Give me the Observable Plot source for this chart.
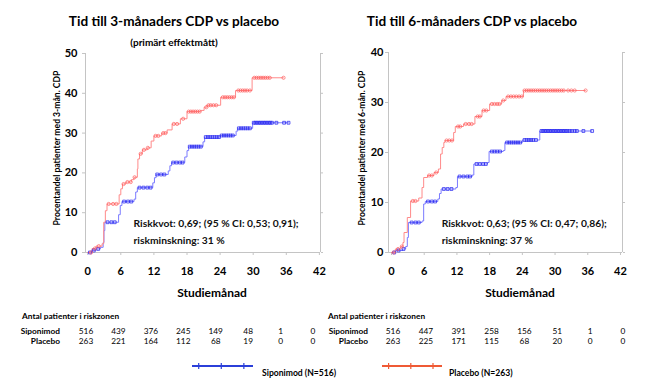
<!DOCTYPE html>
<html><head><meta charset="utf-8">
<script src="https://cdn.jsdelivr.net/npm/d3@7"></script>
<script src="https://cdn.jsdelivr.net/npm/@observablehq/plot@0.6"></script>
<style>
body{margin:0;background:#fff;}
#root{position:relative;width:655px;height:391px;font-family:Lato,"Open Sans",sans-serif;font-weight:700;color:#000;overflow:hidden;background:#fff}
.t{position:absolute;white-space:nowrap;line-height:1}
.c{transform:translate(-50%,-50%)}
.l{transform:translate(0,-50%)}
.r{transform:translate(-100%,-50%)}
.p{position:absolute;top:0}
</style></head><body><div id="root"></div>
<script>
// ---------- data ----------
const monthTicks = [0, 6, 12, 18, 24, 30, 36, 42];
const yTicksLeft = [0, 10, 20, 30, 40, 50];
const yTicksRight = [0, 10, 20, 30, 40];

// 3-month CDP (left)
const sip3T = [0, 0.7, 1.5, 2.3, 2.8, 2.95, 3.1, 5.6, 5.9, 6.2, 8.4, 8.7, 9.0, 11.8, 12.1, 12.4, 14.6, 14.9, 15.2, 17.6, 18.0, 18.3, 20.9, 21.2, 24.0, 26.9, 27.2, 29.9, 36.4];
const sip3V = [0, 0.5, 0.9, 1.3, 2.5, 5.5, 7.6, 9.5, 11.8, 12.8, 13.4, 15.2, 16.3, 17.5, 18.8, 19.6, 20.5, 21.8, 22.6, 24.0, 25.6, 26.6, 27.8, 29.0, 29.4, 30.5, 31.2, 32.6, 32.6];
const pla3T = [0, 0.8, 1.5, 2.6, 2.9, 3.2, 3.5, 5.7, 6.0, 6.3, 6.9, 7.9, 8.4, 9.0, 9.1, 9.4, 9.9, 10.8, 11.5, 12.0, 13.4, 14.4, 15.3, 16.8, 18.0, 20.5, 21.1, 21.6, 24.1, 26.8, 29.8, 35.5];
const pla3V = [0, 1.0, 1.6, 2.2, 7.6, 10.5, 12.2, 14.5, 16.0, 17.2, 17.7, 18.3, 18.9, 21.0, 23.5, 24.8, 25.8, 26.3, 28.0, 29.3, 30.0, 30.8, 32.3, 33.6, 35.4, 35.7, 36.5, 37.0, 39.0, 40.7, 43.9, 43.9];
const sip3Censor = [0.4, 1.1, 1.9, 3.6, 4.3, 4.9, 6.6, 7.3, 7.9, 9.4, 10.1, 10.8, 11.4, 12.6, 13.3, 13.9, 15.5, 16.1, 16.7, 17.2, 18.5, 18.9, 19.3, 19.7, 20.1, 20.5, 21.4, 21.8, 22.2, 22.6, 23.0, 23.4, 23.8, 24.3, 24.7, 25.1, 25.5, 25.9, 26.3, 27.4, 27.8, 28.2, 28.6, 29.0, 29.4, 30.1, 30.4, 30.7, 31.0, 31.3, 31.6, 31.9, 32.2, 32.5, 32.8, 33.1, 33.4, 34.2, 35.6, 36.4];
const pla3Censor = [0.6, 1.3, 2.0, 3.8, 4.6, 5.2, 6.5, 7.2, 7.8, 8.5, 9.6, 10.2, 10.9, 12.3, 12.8, 13.7, 14.1, 15.6, 16.2, 17.3, 18.3, 18.7, 19.1, 19.5, 19.9, 20.3, 21.5, 21.9, 22.3, 22.8, 23.3, 24.5, 24.9, 25.3, 25.7, 26.1, 26.5, 27.3, 27.7, 28.1, 28.5, 28.9, 29.4, 30.2, 30.6, 31.0, 31.4, 31.8, 32.2, 32.6, 33.0, 35.5];

// 6-month CDP (right)
const sip6T = [0, 0.7, 2.0, 2.6, 2.9, 3.1, 5.6, 5.9, 6.2, 8.5, 8.8, 9.1, 11.8, 12.1, 14.8, 15.1, 17.6, 17.9, 20.5, 20.8, 24.0, 27.2, 36.8];
const sip6V = [0, 0.4, 0.7, 1.2, 3.0, 6.0, 6.3, 9.7, 10.2, 10.7, 11.8, 12.7, 13.0, 15.2, 15.5, 17.7, 18.0, 20.2, 20.4, 22.0, 22.5, 24.3, 24.3];
const pla6T = [0, 0.7, 1.7, 2.1, 2.3, 2.9, 3.5, 5.0, 5.6, 5.9, 6.6, 7.8, 8.6, 9.0, 9.3, 9.6, 9.8, 11.4, 11.7, 13.2, 15.3, 16.6, 18.0, 20.2, 21.0, 24.2, 35.6];
const pla6V = [0, 0.7, 1.2, 2.0, 4.0, 7.0, 10.3, 10.9, 13.0, 15.0, 15.4, 16.0, 16.7, 19.7, 21.0, 22.0, 22.4, 24.0, 25.2, 25.7, 27.2, 28.4, 29.7, 30.4, 31.2, 32.4, 32.4];
const sip6Censor = [0.5, 1.3, 2.2, 3.7, 4.4, 5.0, 6.7, 7.4, 8.0, 9.6, 10.3, 11.0, 12.5, 13.2, 13.9, 14.4, 15.6, 16.2, 16.8, 17.3, 18.4, 18.9, 19.4, 19.9, 21.2, 21.6, 22.0, 22.4, 22.8, 23.2, 23.6, 24.4, 24.8, 25.2, 25.6, 26.0, 26.5, 27.5, 27.8, 28.1, 28.4, 28.7, 29.0, 29.3, 29.6, 29.9, 30.2, 30.5, 30.8, 31.1, 31.4, 31.7, 32.0, 32.3, 32.7, 33.1, 33.6, 34.0, 35.2, 36.8];
const pla6Censor = [0.4, 1.2, 1.9, 3.9, 4.4, 6.9, 7.4, 8.2, 10.1, 10.6, 11.1, 12.2, 12.6, 13.6, 14.2, 14.7, 15.8, 16.2, 16.9, 17.4, 18.4, 18.9, 19.4, 19.8, 20.5, 21.4, 21.9, 22.4, 22.9, 23.4, 23.9, 24.4, 24.8, 25.2, 25.6, 26.0, 26.4, 26.8, 27.2, 27.6, 28.0, 28.4, 28.8, 29.2, 29.6, 30.0, 30.4, 30.8, 31.2, 31.6, 32.4, 33.0, 33.6, 35.6];

const annotLeft = ["Riskkvot: 0,69; (95 % CI: 0,53; 0,91);", "riskminskning: 31 %"];
const annotRight = ["Riskkvot: 0,63; (95 % CI: 0,47; 0,86);", "riskminskning: 37 %"];

const riskHeader = "Antal patienter i riskzonen";
const armNames = ["Siponimod", "Placebo"];
const riskLeftSip = [516, 439, 376, 245, 149, 48, 1, 0];
const riskLeftPla = [263, 221, 164, 112, 68, 19, 0, 0];
const riskRightSip = [516, 447, 391, 258, 156, 51, 1, 0];
const riskRightPla = [263, 225, 171, 115, 68, 20, 0, 0];
const legendLabels = ["Siponimod (N=516)", "Placebo (N=263)"];

// ---------- helpers ----------
const BLUE_LINE = "#7b7bff", BLUE_MARK = "#2a2af0";
const RED_LINE = "#ff8a8a", RED_MARK = "#ff5252";
const FRAME = "#c4c4c4";
function series(ts, vs) { return ts.map((t, i) => ({t, v: vs[i]})); }
function stepAt(ts, vs, t) { const i = d3.bisectRight(ts, t) - 1; return vs[Math.max(0, i)]; }
function censors(ts, vs, cs) { return cs.map(t => ({t, v: stepAt(ts, vs, t)})); }

function kmPlot(o) {
  return Plot.plot({
    width: o.width, height: 300,
    marginLeft: o.ml, marginRight: o.mr, marginTop: o.mt, marginBottom: 48,
    x: {domain: o.xDomain},
    y: {domain: o.yDomain},
    style: {fontFamily: "Lato, 'Open Sans', sans-serif", fontWeight: 700, fontSize: "11px", color: "#000", background: "transparent", overflow: "visible"},
    marks: [
      Plot.ruleX(o.xDomain, {stroke: FRAME, strokeWidth: 1}),
      Plot.ruleY([o.yDomain[0]], {stroke: FRAME, strokeWidth: 1}),
      Plot.axisX({ticks: monthTicks, tickSize: 3, tickPadding: 12, stroke: FRAME, label: null, fontSize: 11}),
      Plot.axisY({ticks: o.yTicks, tickSize: 3, tickPadding: o.tp, stroke: FRAME, label: null, fontSize: 11}),
      Plot.axisY({ticks: o.yTicks, anchor: "right", tickSize: 2, fill: "none", stroke: FRAME, label: null}),
      Plot.line(series(o.sipT, o.sipV), {x: "t", y: "v", curve: "step-after", stroke: BLUE_LINE, strokeWidth: 1}),
      Plot.line(series(o.plaT, o.plaV), {x: "t", y: "v", curve: "step-after", stroke: RED_LINE, strokeWidth: 1}),
      Plot.dot(censors(o.sipT, o.sipV, o.sipC), {x: "t", y: "v", symbol: "square", r: 1.6, stroke: BLUE_MARK, strokeWidth: 0.9, fill: "none", strokeOpacity: 0.85}),
      Plot.dot(censors(o.plaT, o.plaV, o.plaC), {x: "t", y: "v", symbol: "circle", r: 1.6, stroke: RED_MARK, strokeWidth: 0.8, fill: "none", strokeOpacity: 0.8}),
      Plot.text(o.annot, {x: o.annX, y: (d, i) => o.annY[i], text: d => d, textAnchor: "start", fontSize: 10.3, fontWeight: 700, fill: "#111"})
    ]
  });
}

const root = document.getElementById("root");
function addText(txt, x, y, cls, size, weight, extra) {
  const d = document.createElement("div");
  d.className = "t " + cls;
  d.textContent = txt;
  d.style.left = x + "px"; d.style.top = y + "px";
  d.style.fontSize = size + "px";
  d.style.fontWeight = weight;
  if (extra) Object.assign(d.style, extra);
  root.appendChild(d);
  return d;
}

const left = kmPlot({width: 330, ml: 85, mr: 10, mt: 53, xDomain: [-0.4, 42.2], yDomain: [0, 50], yTicks: yTicksLeft, tp: 5,
  sipT: sip3T, sipV: sip3V, plaT: pla3T, plaV: pla3V, sipC: sip3Censor, plaC: pla3Censor,
  annot: annotLeft, annX: 8.3, annY: [7.3, 3.0]});
left.classList.add("p"); left.style.left = "0px";
root.appendChild(left);

const right = kmPlot({width: 325, ml: 58, mr: 33, mt: 52, xDomain: [-0.55, 42.37], yDomain: [0, 40], yTicks: yTicksRight, tp: 2,
  sipT: sip6T, sipV: sip6V, plaT: pla6T, plaV: pla6V, sipC: sip6Censor, plaC: pla6Censor,
  annot: annotRight, annX: 9.2, annY: [5.8, 2.4]});
right.classList.add("p"); right.style.left = "330px";
root.appendChild(right);

// titles
addText("Tid till 3-månaders CDP vs placebo", 174, 22, "c", 13.6, 700);
addText("(primärt effektmått)", 174, 42, "c", 10, 700);
addText("Tid till 6-månaders CDP vs placebo", 472, 22, "c", 13.6, 700);
// axis titles
addText("Procentandel patienter med 3-mån. CDP", 57, 148, "c", 8.6, 700, {transform: "translate(-50%,-50%) rotate(-90deg)"});
addText("Procentandel patienter med 6-mån. CDP", 362, 148, "c", 8.6, 700, {transform: "translate(-50%,-50%) rotate(-90deg)"});
addText("Studiemånad", 212, 293, "c", 12, 700);
addText("Studiemånad", 520, 293, "c", 12, 700);

// risk tables
const colL = d3.scaleLinear([0, 42], [86, 313]);
const colR = d3.scaleLinear([0, 42], [393, 623]);
function table(x0, labelRight, col, sip, pla) {
  addText(riskHeader, x0, 316, "l", 8.3, 700);
  addText(armNames[0], labelRight, 331, "r", 8.3, 700);
  addText(armNames[1], labelRight, 341, "r", 8.3, 700);
  sip.forEach((n, i) => addText(String(n), col(monthTicks[i]), 331, "c", 8.3, 400));
  pla.forEach((n, i) => addText(String(n), col(monthTicks[i]), 341, "c", 8.3, 400));
}
table(22, 60, colL, riskLeftSip, riskLeftPla);
table(328, 368, colR, riskRightSip, riskRightPla);

// legend
const legSvg = d3.select(root).append("svg").attr("width", 655).attr("height", 391)
  .style("position", "absolute").style("left", 0).style("top", 0).style("pointer-events", "none");
const legItems = [{x0: 192, x1: 253, color: "#2b3fd9"}, {x0: 382, x1: 442, color: "#ef5a35"}];
legItems.forEach(it => {
  legSvg.append("line").attr("x1", it.x0).attr("x2", it.x1).attr("y1", 366).attr("y2", 366).attr("stroke", it.color).attr("stroke-width", 2);
  [0.11, 0.48, 0.85].forEach(f => {
    const x = it.x0 + f * (it.x1 - it.x0);
    legSvg.append("line").attr("x1", x).attr("x2", x).attr("y1", 363).attr("y2", 369).attr("stroke", it.color).attr("stroke-width", 1.2);
  });
});
addText(legendLabels[0], 262, 373, "l", 8.6, 700);
addText(legendLabels[1], 449, 373, "l", 8.6, 700);
</script>
</body></html>
